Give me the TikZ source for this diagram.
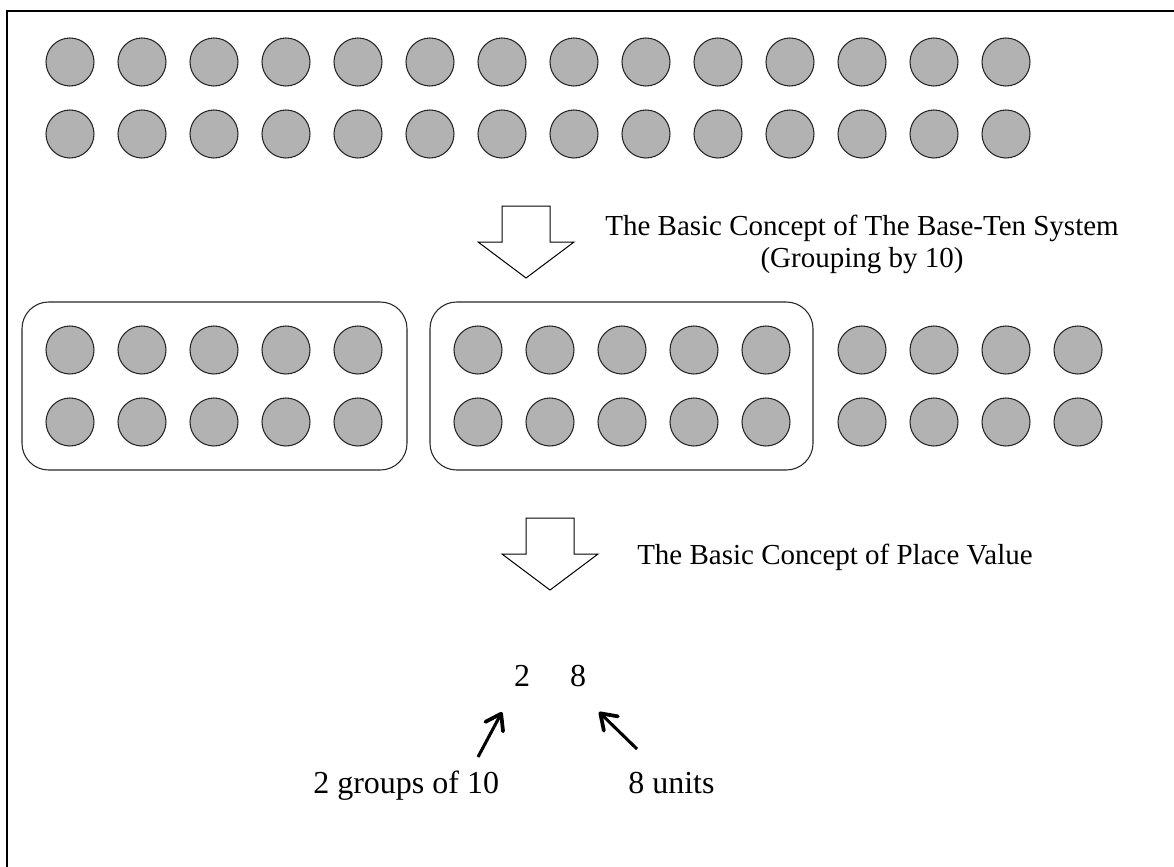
\documentclass[tikz,border=0pt]{standalone}
\usepackage{fontspec}
\setmainfont{Liberation Serif}
\usetikzlibrary{arrows.meta}
\begin{document}
\begin{tikzpicture}[x=0.75pt,y=-0.75pt,
  dot/.style={circle,draw=black!85,fill=black!30,line width=0.8pt,minimum size=36pt,inner sep=0pt},
  groupbox/.style={draw=black!85,line width=0.8pt,rounded corners=20pt},
  blockarrow/.style={draw=black,fill=white,line width=0.75pt},
  frameline/.style={draw=black,line width=2.1pt},
  caption/.style={inner sep=0pt,anchor=base west,font=\fontsize{21.75pt}{24pt}\selectfont},
  capmid/.style={inner sep=0pt,anchor=base,font=\fontsize{21.75pt}{24pt}\selectfont},
  numtext/.style={inner sep=0pt,anchor=base,font=\fontsize{24pt}{28pt}\selectfont},
  labeltext/.style={inner sep=0pt,anchor=base west,font=\fontsize{24pt}{28pt}\selectfont},
  pointer/.style={draw=black,line width=2.3pt,-{Straight Barb[length=11pt,width=15pt,line width=2.8pt,round]}}]
\useasboundingbox (0,0) rectangle (1174,867);
% frame (right and bottom edges fall outside the picture)
\draw[frameline] (7,867) -- (7,11) -- (1174,11);
% top two rows of 14 dots
\foreach \k in {0,...,13}{
  \node[dot] (ta\k) at ({70+72*\k},62) {};
  \node[dot] (tb\k) at ({70+72*\k},134) {};
}
% first arrow and caption
\draw[blockarrow] (502,206) -- (550,206) -- (550,242) -- (574,242) -- (526,278) -- (478,242) -- (502,242) -- cycle;
\node[capmid] (cap1a) at (862,235) {The Basic Concept of The Base-Ten System};
\node[capmid] (cap1b) at (862,267) {(Grouping by 10)};
% grouped dots
\draw[groupbox] (22,302) rectangle (407,470);
\draw[groupbox] (430,302) rectangle (813,470);
\foreach \k in {0,...,4}{
  \node[dot] (ga\k) at ({70+72*\k},350) {};
  \node[dot] (gb\k) at ({70+72*\k},422) {};
  \node[dot] (ha\k) at ({478+72*\k},350) {};
  \node[dot] (hb\k) at ({478+72*\k},422) {};
}
\foreach \k in {0,...,3}{
  \node[dot] (ra\k) at ({862+72*\k},350) {};
  \node[dot] (rb\k) at ({862+72*\k},422) {};
}
% second arrow and caption
\draw[blockarrow] (526,518) -- (574,518) -- (574,554) -- (598,554) -- (550,590) -- (502,554) -- (526,554) -- cycle;
\node[caption] (cap2) at (637,564) {The Basic Concept of Place Value};
% number and labels
\node[numtext] (two) at (522,686) {2};
\node[numtext] (eight) at (578,686) {8};
\node[labeltext] (lbltens) at (313,793) {2 groups of 10};
\node[labeltext] (lblunits) at (628,793) {8 units};
\coordinate (p1s) at (478,757);
\coordinate (p1e) at (502,712);
\coordinate (p2s) at (637,749);
\coordinate (p2e) at (599,712);
\draw[pointer] (p1s) -- (p1e);
\draw[pointer] (p2s) -- (p2e);
\end{tikzpicture}
\end{document}
